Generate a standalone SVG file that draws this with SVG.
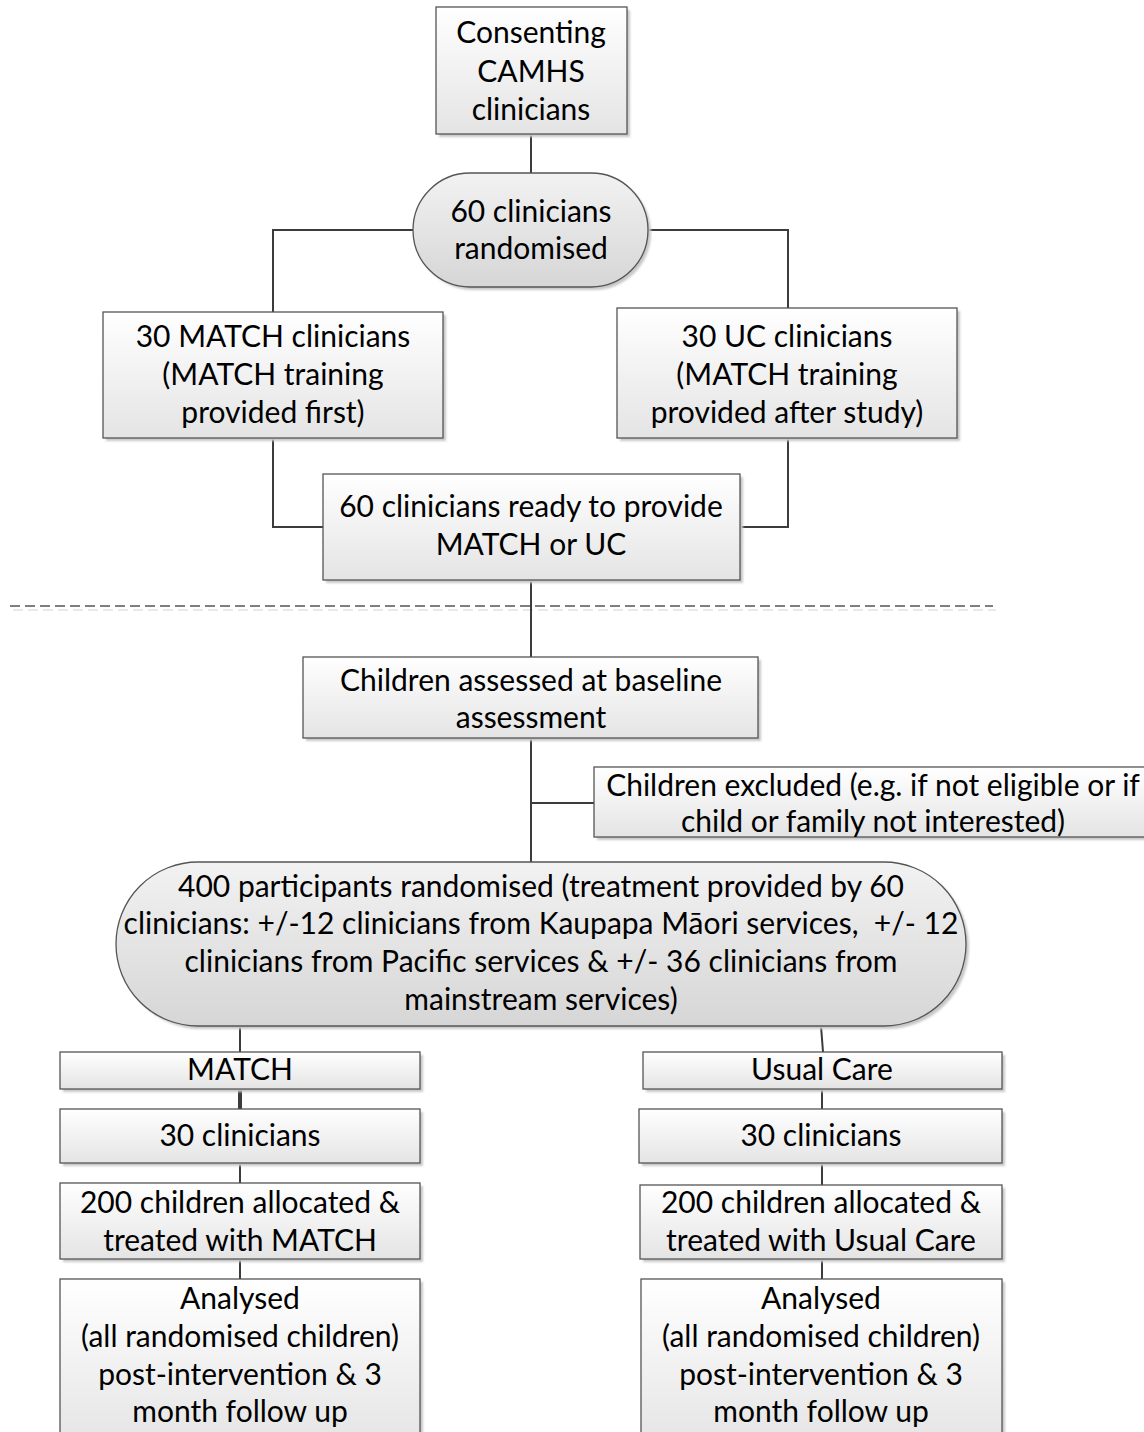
<svg xmlns="http://www.w3.org/2000/svg" width="1144" height="1432" viewBox="0 0 1144 1432">
<defs>
<linearGradient id="gBox" x1="0" y1="0" x2="0" y2="1">
<stop offset="0" stop-color="#ffffff"/>
<stop offset="1" stop-color="#e4e4e4"/>
</linearGradient>
<linearGradient id="gPill" x1="0" y1="0" x2="0" y2="1">
<stop offset="0" stop-color="#f2f2f2"/>
<stop offset="1" stop-color="#d6d6d6"/>
</linearGradient>
<filter id="sh" x="-10%" y="-10%" width="130%" height="130%">
<feGaussianBlur stdDeviation="1.2"/>
</filter>
</defs>
<style>
.box{fill:url(#gBox);stroke:#555;stroke-width:1.3}
.pill{fill:url(#gPill);stroke:#555;stroke-width:1.3}
.shadow{fill:#c8c8c8;filter:url(#sh)}
.t{font-family:Lato,"Liberation Sans",sans-serif;font-size:30px;fill:#000;text-anchor:middle}
.c{fill:none;stroke:#3c3c3c;stroke-width:2}
.dash{fill:none;stroke:#555;stroke-width:1.5;stroke-dasharray:10 5}
.dashsh{fill:none;stroke:#e2e2e2;stroke-width:1.5;stroke-dasharray:10 5}
</style>
<rect width="1144" height="1432" fill="#ffffff"/>

<g id="connectors">
<line class="dashsh" x1="13" y1="610" x2="996" y2="610"/>
<line class="dash" x1="10" y1="606" x2="993" y2="606"/>
<line class="c" x1="531" y1="134" x2="531" y2="173"/>
<polyline class="c" points="413,230 273,230 273,312"/>
<polyline class="c" points="648,230 788,230 788,308"/>
<polyline class="c" points="273,438 273,527 323,527"/>
<polyline class="c" points="788,438 788,527 740,527"/>
<line class="c" x1="531" y1="580" x2="531" y2="657"/>
<line class="c" x1="531" y1="738" x2="531" y2="862"/>
<line class="c" x1="531" y1="803" x2="594" y2="803"/>
<line class="c" x1="240" y1="1026" x2="240" y2="1052"/>
<line class="c" style="stroke-width:4" x1="240" y1="1089" x2="240" y2="1109"/>
<line class="c" x1="240" y1="1163" x2="240" y2="1183"/>
<line class="c" x1="240" y1="1259" x2="240" y2="1279"/>
<line class="c" x1="821" y1="1026" x2="823" y2="1052"/>
<line class="c" x1="822" y1="1089" x2="822" y2="1109"/>
<line class="c" x1="822" y1="1163" x2="822" y2="1185"/>
<line class="c" x1="822" y1="1259" x2="822" y2="1279"/>
</g>

<g id="n1">
<rect class="shadow" x="439" y="10" width="191" height="127"/>
<rect class="box" x="436" y="7" width="191" height="127"/>
<text class="t" x="531" y="43">Consenting</text>
<text class="t" x="531" y="82">CAMHS</text>
<text class="t" x="531" y="120">clinicians</text>
</g>

<g id="n2">
<rect class="shadow" x="416" y="176" width="235" height="114" rx="57"/>
<rect class="pill" x="413" y="173" width="235" height="114" rx="57"/>
<text class="t" x="531" y="222">60 clinicians</text>
<text class="t" x="531" y="259">randomised</text>
</g>

<g id="n3">
<rect class="shadow" x="106" y="315" width="340" height="126"/>
<rect class="box" x="103" y="312" width="340" height="126"/>
<text class="t" x="273" y="347">30 MATCH clinicians</text>
<text class="t" x="273" y="385">(MATCH training</text>
<text class="t" x="273" y="423">provided first)</text>
</g>

<g id="n4">
<rect class="shadow" x="620" y="311" width="340" height="130"/>
<rect class="box" x="617" y="308" width="340" height="130"/>
<text class="t" x="787" y="347">30 UC clinicians</text>
<text class="t" x="787" y="385">(MATCH training</text>
<text class="t" x="787" y="423">provided after study)</text>
</g>

<g id="n5">
<rect class="shadow" x="326" y="477" width="417" height="106"/>
<rect class="box" x="323" y="474" width="417" height="106"/>
<text class="t" x="531" y="517">60 clinicians ready to provide</text>
<text class="t" x="531" y="555">MATCH or UC</text>
</g>

<g id="n6">
<rect class="shadow" x="306" y="660" width="455" height="81"/>
<rect class="box" x="303" y="657" width="455" height="81"/>
<text class="t" x="531" y="691">Children assessed at baseline</text>
<text class="t" x="531" y="728">assessment</text>
</g>

<g id="n7">
<rect class="shadow" x="597" y="770" width="560" height="70"/>
<rect class="box" x="594" y="767" width="560" height="70"/>
<text class="t" x="873" y="796">Children excluded (e.g. if not eligible or if</text>
<text class="t" x="873" y="832">child or family not interested)</text>
</g>

<g id="n8">
<rect class="shadow" x="119" y="865" width="850" height="164" rx="82"/>
<rect class="pill" x="116" y="862" width="850" height="164" rx="82"/>
<text class="t" x="541" y="897">400 participants randomised (treatment provided by 60</text>
<text class="t" x="541" y="934">clinicians: +/-12 clinicians from Kaupapa Māori services,&#160; +/- 12</text>
<text class="t" x="541" y="972">clinicians from Pacific services &amp; +/- 36 clinicians from</text>
<text class="t" x="541" y="1010">mainstream services)</text>
</g>

<g id="n9">
<rect class="shadow" x="63" y="1055" width="360" height="37"/>
<rect class="box" x="60" y="1052" width="360" height="37"/>
<text class="t" x="240" y="1080">MATCH</text>
</g>

<g id="n10">
<rect class="shadow" x="646" y="1055" width="359" height="37"/>
<rect class="box" x="643" y="1052" width="359" height="37"/>
<text class="t" x="822" y="1080">Usual Care</text>
</g>

<g id="n11">
<rect class="shadow" x="63" y="1112" width="360" height="54"/>
<rect class="box" x="60" y="1109" width="360" height="54"/>
<text class="t" x="240" y="1146">30 clinicians</text>
</g>

<g id="n12">
<rect class="shadow" x="642" y="1112" width="363" height="54"/>
<rect class="box" x="639" y="1109" width="363" height="54"/>
<text class="t" x="821" y="1146">30 clinicians</text>
</g>

<g id="n13">
<rect class="shadow" x="63" y="1186" width="360" height="76"/>
<rect class="box" x="60" y="1183" width="360" height="76"/>
<text class="t" x="240" y="1213">200 children allocated &amp;</text>
<text class="t" x="240" y="1251">treated with MATCH</text>
</g>

<g id="n14">
<rect class="shadow" x="643" y="1188" width="362" height="74"/>
<rect class="box" x="640" y="1185" width="362" height="74"/>
<text class="t" x="821" y="1213">200 children allocated &amp;</text>
<text class="t" x="821" y="1251">treated with Usual Care</text>
</g>

<g id="n15">
<rect class="shadow" x="63" y="1282" width="360" height="170"/>
<rect class="box" x="60" y="1279" width="360" height="170"/>
<text class="t" x="240" y="1309">Analysed</text>
<text class="t" x="240" y="1347">(all randomised children)</text>
<text class="t" x="240" y="1385">post-intervention &amp; 3</text>
<text class="t" x="240" y="1422">month follow up</text>
</g>

<g id="n16">
<rect class="shadow" x="644" y="1282" width="361" height="170"/>
<rect class="box" x="641" y="1279" width="361" height="170"/>
<text class="t" x="821" y="1309">Analysed</text>
<text class="t" x="821" y="1347">(all randomised children)</text>
<text class="t" x="821" y="1385">post-intervention &amp; 3</text>
<text class="t" x="821" y="1422">month follow up</text>
</g>
</svg>
